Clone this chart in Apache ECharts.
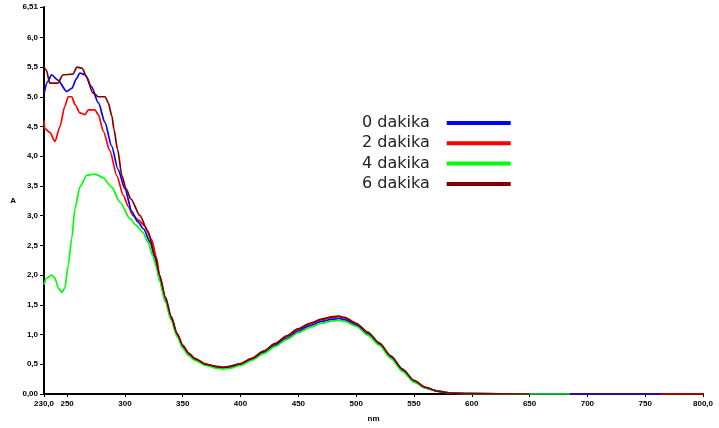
<!DOCTYPE html>
<html><head><meta charset="utf-8">
<script src="https://cdn.jsdelivr.net/npm/echarts@6/dist/echarts.min.js"></script>
<style>html,body{margin:0;padding:0;background:#fff}#c{width:719px;height:428px}</style>
</head><body><div id="c"></div>
<script>
var seriesNames = ['0 dakika', '2 dakika', '4 dakika', '6 dakika'];
var xTickValues = [230, 250, 300, 350, 400, 450, 500, 550, 600, 650, 700, 750, 800];
var xTickLabels = ['230,0', '250', '300', '350', '400', '450', '500', '550', '600', '650', '700', '750', '800,0'];
var yTickValues = [0, 0.5, 1, 1.5, 2, 2.5, 3, 3.5, 4, 4.5, 5, 5.5, 6, 6.51];
var yTickLabels = ['0,00', '0,5', '1,0', '1,5', '2,0', '2,5', '3,0', '3,5', '4,0', '4,5', '5,0', '5,5', '6,0', '6,51'];

var blue0 = [[230,5.05],[233,5.25],[236.6,5.37],[242,5.28],[249.6,5.09],[254,5.14],[258,5.3],[261,5.4],[265.5,5.37],[271,5.17],[277,4.9],[282.7,4.57],[288.5,4.17],[294,3.78],[300,3.45],[306,3.07],[311,2.9],[316,2.78],[322,2.55],[326,2.28],[330,1.92],[335,1.58],[340,1.27],[345,1.0],[350,0.8],[355,0.67],[360,0.59],[370,0.5],[380,0.45],[385,0.44],[390,0.45],[400,0.5],[410,0.59],[420,0.7],[430,0.82],[440,0.94],[450,1.06],[460,1.15],[470,1.22],[480,1.26],[485,1.27],[490,1.25],[500,1.16],[510,1.01],[520,0.84],[530,0.62],[540,0.4],[550,0.21],[560,0.1],[570,0.05],[580,0.02],[590,0.01],[600,0.005],[650,0],[700,0],[763,0]];
var red2 = [[230,4.6],[230.5,4.47],[235,4.4],[239.5,4.25],[243.8,4.5],[248,4.84],[251,5.0],[254,5.0],[256.8,4.87],[261,4.73],[265.5,4.7],[268.3,4.78],[274,4.78],[277,4.7],[281.3,4.42],[287,4.09],[293,3.67],[298.6,3.34],[303,3.15],[307,3.0],[312,2.92],[317,2.83],[323,2.6],[327.5,2.28],[330,1.97],[335,1.62],[340,1.3],[345,1.02],[350,0.82],[355,0.69],[360,0.6],[370,0.5],[380,0.46],[385,0.45],[390,0.46],[400,0.51],[410,0.6],[420,0.72],[430,0.84],[440,0.97],[450,1.09],[460,1.18],[470,1.25],[480,1.29],[485,1.3],[490,1.28],[500,1.18],[510,1.03],[520,0.85],[530,0.63],[540,0.41],[550,0.22],[560,0.11],[570,0.05],[580,0.02],[590,0.01],[600,0.005],[650,0],[700,0],[750,0],[800,0]];
var green4 = [[230,1.84],[232.3,1.95],[236.6,2.0],[239.5,1.95],[242.4,1.78],[245.3,1.71],[248,1.78],[251,2.17],[254,2.62],[256.8,3.12],[261,3.48],[267,3.68],[274,3.7],[281,3.64],[288.5,3.48],[295.7,3.23],[304.4,2.95],[309,2.85],[315.6,2.72],[320,2.55],[324,2.33],[327.6,2.12],[330,1.9],[335,1.55],[340,1.24],[345,0.97],[350,0.77],[355,0.65],[360,0.57],[370,0.48],[380,0.43],[385,0.42],[390,0.43],[400,0.48],[410,0.57],[420,0.68],[430,0.8],[440,0.92],[450,1.03],[460,1.12],[470,1.19],[480,1.23],[485,1.24],[490,1.22],[500,1.14],[510,0.99],[520,0.82],[530,0.6],[540,0.38],[550,0.2],[560,0.1],[570,0.05],[580,0.02],[590,0.01],[600,0.005],[650,0],[685,0]];
var brown6 = [[230,5.5],[232,5.45],[235,5.23],[242,5.23],[246.5,5.37],[255,5.38],[258.5,5.5],[263,5.48],[267,5.33],[272,5.07],[277,5.0],[283,5.0],[285.5,4.9],[288.8,4.67],[290.5,4.45],[293.6,4.12],[297.4,3.67],[301,3.45],[305.2,3.28],[313,3.0],[320,2.73],[326,2.33],[330,2.0],[335,1.63],[340,1.3],[345,1.02],[350,0.82],[355,0.69],[360,0.6],[370,0.5],[380,0.46],[385,0.45],[390,0.46],[400,0.51],[410,0.6],[420,0.72],[430,0.85],[440,0.98],[450,1.1],[460,1.19],[470,1.26],[480,1.3],[485,1.31],[490,1.29],[500,1.19],[510,1.04],[520,0.86],[530,0.64],[540,0.42],[550,0.23],[560,0.11],[570,0.05],[580,0.02],[590,0.01],[600,0.005],[650,0]];

var colors = {'0 dakika':'#0000ff','2 dakika':'#ff0000','4 dakika':'#00ff00','6 dakika':'#800000'};
function mk(name, data) {
  return {name:name, type:'line', data:data, showSymbol:false, smooth:0.25, smoothMonotone:'x',
    lineStyle:{color:colors[name], width:1.7}, itemStyle:{color:colors[name]}, z:2};
}
var chart = echarts.init(document.getElementById('c'), null, {renderer:'canvas'});
var axisFont = {fontFamily:'Liberation Sans, Arial, sans-serif', fontSize:8, fontWeight:'bold', color:'#000'};
chart.setOption({
  animation:false,
  backgroundColor:'#fff',
  grid:{left:44, right:16, top:7, bottom:31, containLabel:false},
  legend:{
    data:seriesNames, orient:'vertical', align:'right', left:362, top:115, padding:0,
    itemWidth:64, itemHeight:4, itemGap:4.3, icon:'rect',
    textStyle:{fontFamily:'DejaVu Sans, sans-serif', fontSize:16, lineHeight:16, color:'#222', padding:[0,12,0,0]}
  },
  xAxis:{
    type:'value', min:230, max:800, name:'nm', nameLocation:'middle', nameGap:21,
    nameTextStyle:{fontFamily:'Liberation Sans, Arial, sans-serif', fontSize:8, fontWeight:'bold', color:'#000'},
    axisLine:{show:true, onZero:false, lineStyle:{color:'#000', width:2}},
    axisTick:{show:true, customValues:xTickValues, length:3, lineStyle:{color:'#000', width:1}},
    axisLabel:Object.assign({customValues:xTickValues, margin:6, formatter:function(v){var i=xTickValues.indexOf(v);return i>=0?xTickLabels[i]:'';}}, axisFont),
    splitLine:{show:false}
  },
  yAxis:{
    type:'value', min:0, max:6.51, name:'A', nameLocation:'middle', nameGap:28, nameRotate:0,
    nameTextStyle:{fontFamily:'Liberation Sans, Arial, sans-serif', fontSize:8, fontWeight:'bold', color:'#000'},
    axisLine:{show:true, onZero:false, lineStyle:{color:'#000', width:2}},
    axisTick:{show:true, customValues:yTickValues, length:4, lineStyle:{color:'#000', width:1}},
    axisLabel:Object.assign({customValues:yTickValues, margin:6, formatter:function(v){for(var i=0;i<yTickValues.length;i++){if(Math.abs(yTickValues[i]-v)<1e-6)return yTickLabels[i];}return '';}}, axisFont),
    splitLine:{show:false}
  },
  series:[mk('2 dakika', red2), mk('0 dakika', blue0), mk('4 dakika', green4), mk('6 dakika', brown6)]
});
</script></body></html>
